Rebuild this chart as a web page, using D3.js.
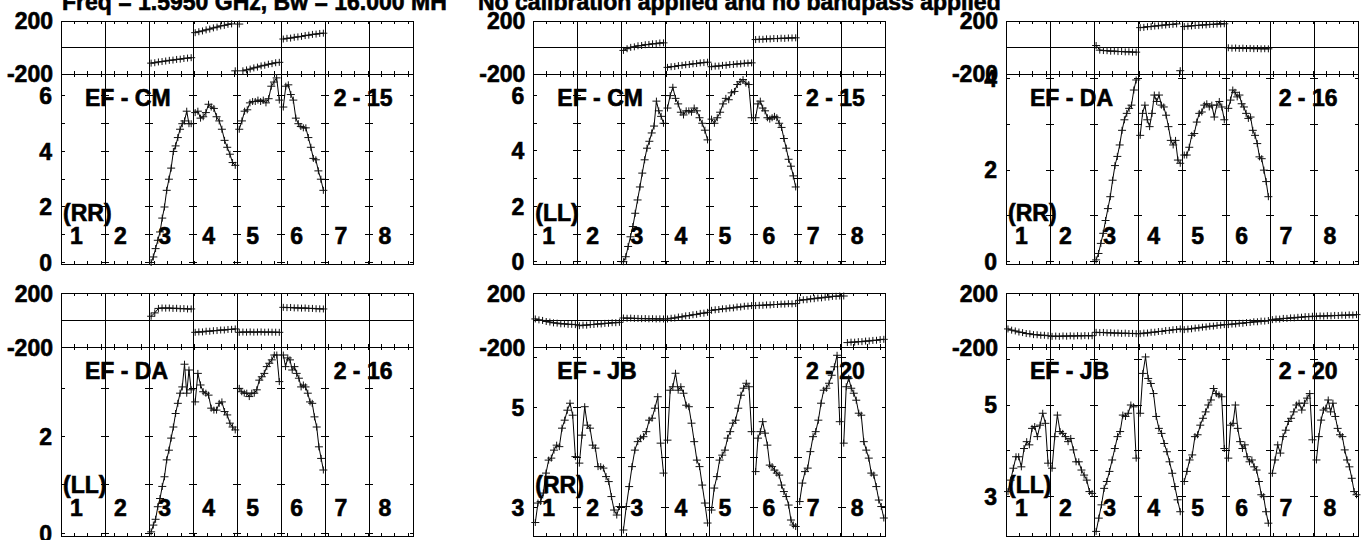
<!DOCTYPE html>
<html><head><meta charset="utf-8">
<script src="https://cdn.jsdelivr.net/npm/d3@7"></script>
<style>
body{margin:0;background:#fff;}
svg{display:block;font-family:"Liberation Sans",Arial,Helvetica,sans-serif;font-weight:bold;}
svg text{stroke:#000;stroke-width:0.6px;}
</style></head><body>
<svg id="c" width="1366" height="540"></svg>
<script>
// ---------------- data ----------------
const ifLabels = ["1","2","3","4","5","6","7","8"];
const titleLeft = "Freq = 1.5950 GHz, Bw = 16.000 MH";
const titleRight = "No calibration applied and no bandpass applied";
const phaseTickLabels = [200, -200];
const baselines = ["EF - CM","EF - CM","EF - DA","EF - DA","EF - JB","EF - JB"];
const polarisations = ["(RR)","(LL)","(RR)","(LL)","(RR)","(LL)"];
const timeLabels = ["2 - 15","2 - 15","2 - 16","2 - 16","2 - 20","2 - 20"];
const ampTickLabels = [[0,2,4,6],[0,2,4,6],[0,2,4],[0,2],[3,5],[3,5]];
const ampDomains = [[-0.054,6.79],[-0.083,6.78],[-0.05,4.1],[-0.056,3.85],[2.43,6.21],[2.14,6.26]];

// EF - CM (RR)
const cmRRAmp = [null, null,
  [0.0,0.2,0.5,0.8,1.1,1.6,2.0,2.6,3.0,3.4,4.0,4.2,4.5,4.8,5.0,5.1,5.45,5.0,5.0],
  [5.4,5.45,5.2,5.25,5.4,5.7,5.6,5.55,5.25,5.1,4.8,4.4,4.15,3.9,3.6,3.5],
  [4.8,5.1,5.45,5.5,5.75,5.8,5.8,5.85,5.8,5.85,5.75,5.9,6.35,6.5,6.65,5.85],
  [5.6,6.35,6.4,6.05,5.85,5.2,5.0,4.9,4.85,4.85,4.5,4.15,3.75,3.7,3.3,3.0,2.6],
  null, null];
const cmRRPhase = [null, null,
  [-118,-115,-109,-106,-102,-97,-95,-90,-88,-83,-80,-77],
  [112,119,125,133,139,148,154,163,167,175,178,-176],
  [177,-176,-169,-163,-154,-148,-139,-134,-126,-122,-115,-112],
  [64,69,71,77,80,84,90,93,99,101,106,108],
  null, null];
// EF - CM (LL)
const cmLLAmp = [null, null,
  [0.0,0.18,0.55,0.9,1.27,1.75,2.23,2.7,3.2,3.68,4.1,4.35,4.65,4.9,5.8,5.45,5.25,5.0],
  [5.55,6.0,6.3,5.9,5.7,5.4,5.3,5.45,5.45,5.4,5.55,5.45,5.2,5.0,4.75,4.4],
  [5.15,5.0,5.2,5.4,5.7,5.9,5.85,6.1,6.15,6.4,6.5,6.58,6.45,6.4,5.2],
  [5.2,5.7,5.8,5.55,5.45,5.2,5.15,5.2,5.25,5.2,5.0,4.85,4.45,4.1,3.7,3.45,3.1,2.7],
  null, null];
const cmLLPhase = [null, null,
  [-22,-9,1,5,13,15,21,23,28,29,34,35],
  [-150,-145,-143,-137,-135,-130,-128,-123,-121,-116,-114,-111],
  [-145,-141,-140,-135,-134,-129,-128,-124,-123,-119,-118,-116],
  [60,62,62,65,65,68,67,70,69,72,72,73],
  null, null];
// EF - DA (RR)
const daRRAmp = [null, null,
  [0.04,0.18,0.4,0.62,0.9,1.16,1.42,1.78,2.1,2.3,2.55,2.87,3.1,3.24,3.35,3.42,3.75,3.97],
  [2.76,3.24,3.42,3.1,2.95,3.24,3.64,3.5,3.64,3.42,3.38,3.2,2.95,2.65,2.55,2.65,2.22,2.15],
  [2.33,2.33,2.5,2.76,2.8,3.05,3.24,3.27,3.42,3.45,3.38,3.42,3.16,3.42,3.5,3.38,3.1],
  [3.35,3.53,3.75,3.7,3.6,3.64,3.45,3.38,3.24,3.13,3.16,2.87,2.76,2.58,2.29,2.25,2.0,1.75,1.42],
  null, null];
const daRRPhase = [null, null,
  [15,-20,-23,-24,-28,-27,-31,-30,-33,-32,-35,-35],
  [150,152,157,158,162,164,168,170,173,175,178,-175],
  [158,161,163,166,167,170,171,174,175,177,178,179],
  [-2,-5,-4,-7,-5,-8,-7,-9,-8,-10,-9,-10],
  null, null];
// EF - DA (LL)
const daLLAmp = [null, null,
  [0.03,0.17,0.29,0.55,0.72,0.97,1.17,1.52,1.72,1.97,2.2,2.48,2.69,2.9,3.03,3.5,2.9,3.38,2.97],
  [2.72,3.31,3.07,2.93,2.9,2.86,2.59,2.55,2.55,2.69,2.72,2.52,2.45,2.28,2.2,2.14],
  [3.0,2.93,2.9,2.9,2.83,2.9,2.9,2.97,3.17,3.24,3.31,3.45,3.52,3.59,3.69,3.69,3.14],
  [3.69,3.45,3.63,3.59,3.38,3.45,3.31,3.21,3.03,3.07,3.03,2.9,2.72,2.69,2.41,2.2,1.79,1.55,1.31],
  null, null];
const daLLPhase = [null, null,
  [30,55,88,91,90,91,88,89,86,87,84,84],
  [-89,-86,-86,-81,-81,-77,-76,-72,-72,-68,-67,-64],
  [-89,-87,-88,-86,-88,-87,-86,-88,-87,-88,-88,-89],
  [96,94,95,92,92,90,91,88,88,86,85,84],
  null, null];
// EF - JB (RR)
const jbRRAmp = [
  [2.7,3.09,3.12,3.29,3.69,3.95,3.99,4.15,4.25,4.22,4.59,4.75,4.95,5.09,4.85,4.02],
  [3.89,4.45,5.02,4.65,4.59,4.25,4.19,3.82,3.82,3.79,3.62,3.52,3.22,2.95,2.85,3.02],
  [2.55,3.02,3.42,3.82,4.15,4.32,4.39,4.42,4.52,4.75,4.79,4.99,5.22,4.29,3.69],
  [4.35,5.35,5.42,5.69,5.35,5.42,5.29,5.05,5.02,4.69,4.32,3.95,3.82,3.45,3.09,2.69],
  [2.95,3.39,3.62,3.95,4.05,4.15,4.39,4.52,4.69,4.75,4.99,5.25,5.39,5.49,5.42,4.52],
  [3.72,4.39,4.52,4.72,4.49,4.25,3.85,3.82,3.75,3.69,3.65,3.45,3.32,3.22,3.05,2.75,2.65,2.62],
  [3.12,3.49,3.72,3.79,4.12,4.42,4.52,4.75,5.09,5.35,5.39,5.49,5.65,5.82,6.05,4.72],
  [4.29,5.42,5.59,5.39,5.29,5.15,4.89,4.85,4.32,4.15,3.99,3.69,3.65,3.42,3.15,3.02,2.79]];
const jbRRPhase = [
  [10,3,-1,-9,-13,-19,-21,-26,-26,-30,-30,-32],
  [-40,-36,-36,-32,-31,-27,-27,-23,-22,-18,-18,-15],
  [17,15,16,14,14,12,13,11,12,10,11,10],
  [10,15,17,24,26,33,35,41,44,51,53,59],
  [74,78,80,85,86,91,92,98,99,104,105,109],
  [109,111,111,114,114,117,117,120,120,123,122,124],
  [148,152,153,159,160,165,166,171,172,177,178,180],
  [180,-165,-162,-162,-158,-158,-154,-153,-149,-148,-143,-141]];
// EF - JB (LL)
const jbLLAmp = [
  [3.11,3.36,3.62,3.87,3.87,3.65,4.05,4.2,4.13,4.49,4.53,4.31,4.56,4.82,4.6,3.73],
  [3.62,4.31,4.78,4.42,4.38,4.31,4.2,4.27,4.02,3.76,3.76,3.58,3.47,3.36,3.11,3.07],
  [2.24,2.53,2.82,3.18,3.33,3.55,3.8,4.05,4.31,4.42,4.78,4.75,4.82,5.0,4.96,3.84],
  [4.82,5.69,6.05,5.58,5.47,5.25,4.75,4.49,4.38,4.16,3.98,3.76,3.51,3.22,2.93,2.67],
  [3.33,3.55,3.8,3.91,4.31,4.35,4.56,4.71,4.85,5.0,5.11,5.36,5.25,5.22,5.18,4.05],
  [3.84,4.56,4.6,5.0,4.49,4.2,4.05,4.13,3.87,3.76,3.8,3.65,3.58,3.33,3.04,3.0,2.67,2.42],
  [3.51,3.8,4.13,3.95,4.31,4.45,4.64,4.71,4.85,5.0,5.04,4.89,5.04,5.15,5.25,4.24],
  [3.8,4.31,4.67,4.89,4.93,5.11,4.85,5.04,4.75,4.49,4.35,4.31,4.02,3.8,3.65,3.4,3.11,3.04]];
const jbLLPhase = [
  [-64,-73,-79,-87,-91,-98,-100,-106,-107,-111,-111,-114],
  [-119,-117,-119,-116,-118,-115,-117,-114,-116,-113,-115,-114],
  [-89,-91,-90,-93,-92,-95,-94,-97,-95,-98,-97,-99],
  [-99,-95,-94,-89,-88,-83,-82,-76,-75,-70,-68,-64],
  [-69,-65,-63,-58,-56,-51,-49,-44,-43,-38,-36,-32],
  [-32,-28,-27,-22,-22,-17,-16,-11,-11,-6,-6,-2],
  [5,9,9,14,14,18,18,22,23,27,27,30],
  [30,32,31,34,33,36,35,38,37,40,39,42]];

const ampSets = [cmRRAmp, cmLLAmp, daRRAmp, daLLAmp, jbRRAmp, jbLLAmp];
const phaseSets = [cmRRPhase, cmLLPhase, daRRPhase, daLLPhase, jbRRPhase, jbLLPhase];

// ---------------- layout ----------------
const svg = d3.select("#c");
const FS = 23;
const colX = [61, 533.3, 1006];
const panelW = 352.5;
const rowsY = [{pt:21, pb:74, ab:264}, {pt:293.3, pb:347.3, ab:536}];
const chanPerIF = 33, nIF = 8, nChan = chanPerIF * nIF;

svg.append("text").attr("x", 62).attr("y", 10).attr("font-size", FS).text(titleLeft);
svg.append("text").attr("x", 478).attr("y", 10).attr("font-size", FS).text(titleRight);

function cross(g, pts) {
  g.append("path")
    .attr("d", pts.map(p => `M${p[0]-4},${p[1]}H${p[0]+4}M${p[0]},${p[1]-3.5}V${p[1]+3.5}`).join(""))
    .attr("fill", "none").attr("stroke", "#111").attr("stroke-width", 1);
}

for (let i = 0; i < 6; i++) {
  const r = rowsY[Math.floor(i / 3)];
  const x0 = colX[i % 3], x1 = x0 + panelW;
  const g = svg.append("g");
  const x = d3.scaleLinear().domain([0, nChan]).range([x0, x1]);
  const yP = d3.scaleLinear().domain([-200, 200]).range([r.pb, r.pt]);
  const yA = d3.scaleLinear().domain(ampDomains[i]).range([r.ab, r.pb]);

  const axisG = g.append("g").attr("stroke", "#000").attr("stroke-width", 1).attr("shape-rendering", "crispEdges");
  axisG.append("rect").attr("x", x0).attr("y", r.pt).attr("width", panelW).attr("height", r.ab - r.pt).attr("fill", "none");
  axisG.append("line").attr("x1", x0).attr("x2", x1).attr("y1", r.pb).attr("y2", r.pb);
  axisG.append("line").attr("x1", x0).attr("x2", x1).attr("y1", yP(0)).attr("y2", yP(0));
  const seps = d3.range(1, nIF).map(k => x(k * chanPerIF));
  seps.forEach(sx => axisG.append("line").attr("x1", sx).attr("x2", sx).attr("y1", r.pt).attr("y2", r.ab));
  const xt = d3.range(10, nChan, 10);
  xt.forEach(c => {
    const xx = x(c);
    axisG.append("line").attr("x1", xx).attr("x2", xx).attr("y1", r.pt).attr("y2", r.pt + 3);
    axisG.append("line").attr("x1", xx).attr("x2", xx).attr("y1", r.pb - 3).attr("y2", r.pb + 3);
    axisG.append("line").attr("x1", xx).attr("x2", xx).attr("y1", r.ab - 3).attr("y2", r.ab);
  });
  const d = ampDomains[i];
  const yt = d3.range(Math.ceil(d[0]), Math.floor(d[1]) + 1);
  yt.forEach(v => {
    const yy = yA(v);
    axisG.append("line").attr("x1", x0).attr("x2", x0 + 4).attr("y1", yy).attr("y2", yy);
    axisG.append("line").attr("x1", x1 - 4).attr("x2", x1).attr("y1", yy).attr("y2", yy);
    seps.forEach(sx => axisG.append("line").attr("x1", sx - 4).attr("x2", sx + 4).attr("y1", yy).attr("y2", yy));
  });

  phaseTickLabels.forEach(v => g.append("text").attr("x", x0 - 8).attr("y", yP(v)).attr("dy", "0.36em")
    .attr("text-anchor", "end").attr("font-size", FS).text(v));
  ampTickLabels[i].forEach(v => g.append("text").attr("x", x0 - 9).attr("y", yA(v)).attr("dy", "0.36em")
    .attr("text-anchor", "end").attr("font-size", FS).text(v));
  g.append("text").attr("x", x0 + 24).attr("y", r.pb + 32).attr("font-size", FS).text(baselines[i]);
  g.append("text").attr("x", x1 - 21).attr("y", r.pb + 32).attr("text-anchor", "end").attr("font-size", FS).text(timeLabels[i]);
  g.append("text").attr("x", x0 + 2).attr("y", r.ab - 43).attr("font-size", FS).text(polarisations[i]);
  ifLabels.forEach((t, k) => g.append("text").attr("x", x(k * chanPerIF) + 9).attr("y", r.ab - 20)
    .attr("font-size", FS).text(t));

  const line = d3.line();
  const posFor = (k, n, j) => k * chanPerIF + 1.5 + j * 30 / (n - 1);
  ampSets[i].forEach((arr, k) => {
    if (!arr) return;
    const pts = arr.map((v, j) => [x(posFor(k, arr.length, j)), yA(v)]);
    g.append("path").attr("d", line(pts)).attr("fill", "none").attr("stroke", "#000").attr("stroke-width", 1);
    cross(g, pts);
  });
  phaseSets[i].forEach((arr, k) => {
    if (!arr) return;
    const pts = arr.map((v, j) => [x(posFor(k, arr.length, j)), yP(v)]);
    let seg = [pts[0]];
    const segs = [];
    for (let j = 1; j < arr.length; j++) {
      if (Math.abs(arr[j] - arr[j - 1]) > 180) { segs.push(seg); seg = []; }
      seg.push(pts[j]);
    }
    segs.push(seg);
    segs.forEach(s => { if (s.length > 1) g.append("path").attr("d", line(s)).attr("fill", "none").attr("stroke", "#000").attr("stroke-width", 1); });
    cross(g, pts);
  });
}
</script>
</body></html>
